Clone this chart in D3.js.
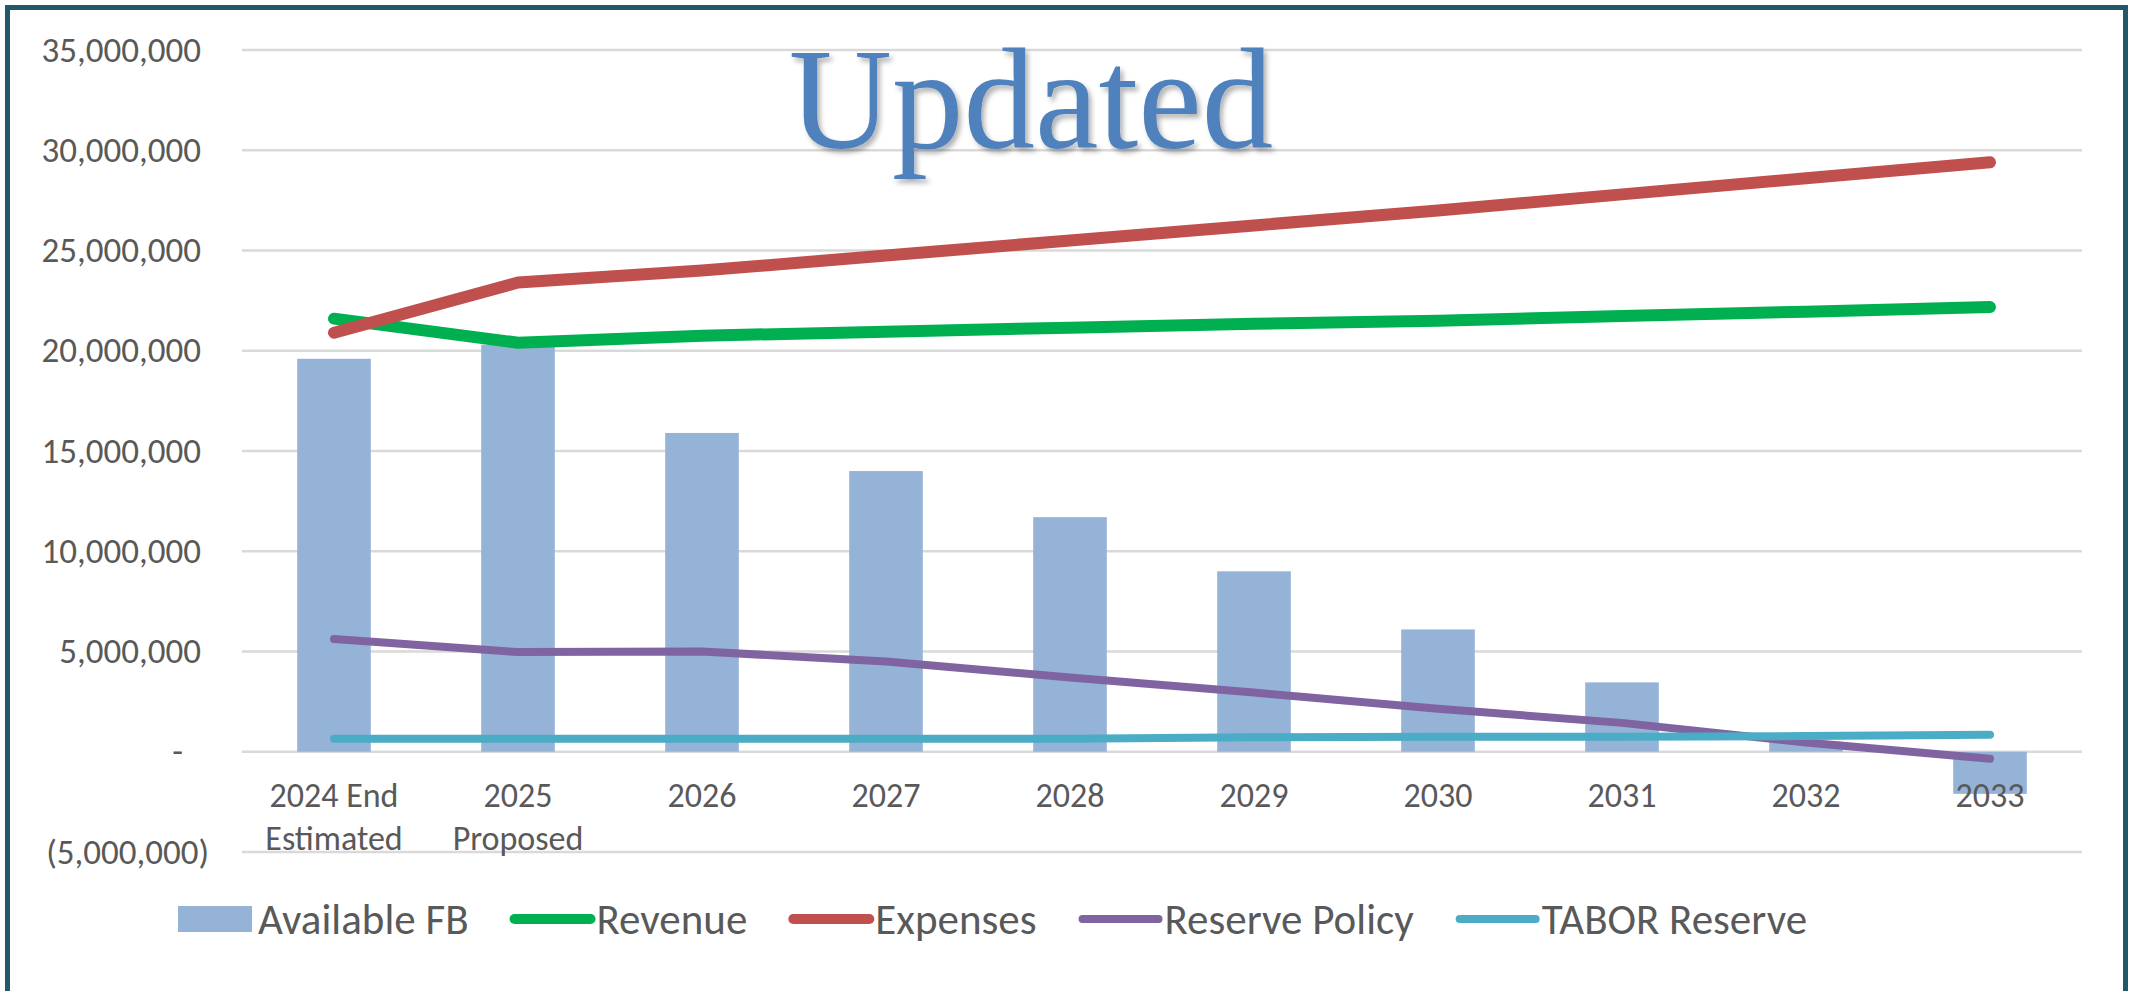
<!DOCTYPE html>
<html>
<head>
<meta charset="utf-8">
<script src="https://cdn.jsdelivr.net/npm/d3@7"></script>
<style>
  html, body { margin: 0; padding: 0; background: #fff; overflow: hidden; }
  svg { display: block; }
</style>
</head>
<body>
<div id="chart"></div>
<script>
// categories (line breaks mark two-line tick labels)
const categories = ['2024 End\nEstimated', '2025\nProposed', '2026', '2027', '2028', '2029', '2030', '2031', '2032', '2033'];
const yTicks = [-5e6, 0, 5e6, 10e6, 15e6, 20e6, 25e6, 30e6, 35e6];

// series values
const availableFB = [19.6e6, 20.3e6, 15.9e6, 14.0e6, 11.7e6, 9.0e6, 6.1e6, 3.46e6, 0.5e6, -2.1e6];
const revenue = [21.6e6, 20.4e6, 20.75e6, 20.95e6, 21.15e6, 21.35e6, 21.5e6, 21.73e6, 21.95e6, 22.18e6];
const expenses = [20.9e6, 23.4e6, 24.0e6, 24.75e6, 25.5e6, 26.25e6, 27.0e6, 27.8e6, 28.6e6, 29.4e6];
const reservePolicy = [5.62e6, 4.97e6, 5.0e6, 4.5e6, 3.7e6, 2.95e6, 2.14e6, 1.44e6, 0.46e6, -0.35e6];
const taborReserve = [0.65e6, 0.65e6, 0.65e6, 0.65e6, 0.65e6, 0.72e6, 0.75e6, 0.75e6, 0.78e6, 0.85e6];

const lineSeries = [
  { name: 'Revenue', values: revenue, color: '#00B050', width: 12 },
  { name: 'Expenses', values: expenses, color: '#C0504D', width: 12 },
  { name: 'Reserve Policy', values: reservePolicy, color: '#8064A2', width: 8 },
  { name: 'TABOR Reserve', values: taborReserve, color: '#4BACC6', width: 8 },
];

const width = 2131;
const height = 991;
const margin = { top: 50, right: 49, bottom: 139, left: 242 };
const innerWidth = width - margin.left - margin.right;
const innerHeight = height - margin.top - margin.bottom;
const labelFont = 'Carlito, Lato, sans-serif';
const textColor = '#595959';

const svg = d3.select('#chart').append('svg').attr('width', width).attr('height', height);
svg.append('rect').attr('width', width).attr('height', height).attr('fill', '#fff');

const defs = svg.append('defs');
defs.append('filter').attr('id', 'shadow').attr('x', '-10%').attr('y', '-10%').attr('width', '130%').attr('height', '140%')
  .append('feDropShadow')
  .attr('dx', 3).attr('dy', 4).attr('stdDeviation', 2.5)
  .attr('flood-color', '#000').attr('flood-opacity', 0.3);

const g = svg.append('g').attr('transform', `translate(${margin.left},${margin.top})`);

const x = d3.scaleBand().domain(categories).range([0, innerWidth]);
const barW = x.bandwidth() * 0.4;
const y = d3.scaleLinear().domain([-5e6, 35e6]).range([innerHeight, 0]);

// gridlines
g.append('g').selectAll('line').data(yTicks).join('line')
  .attr('x1', 0).attr('x2', innerWidth)
  .attr('y1', (d) => y(d)).attr('y2', (d) => y(d))
  .attr('stroke', '#D9D9D9').attr('stroke-width', 2.5);

// y axis labels (accounting style)
const fmt = (d) => (d === 0 ? '-' : d < 0 ? `(${d3.format(',')(-d)})` : d3.format(',')(d));
const yAxis = g.append('g')
  .call(d3.axisLeft(y).tickValues(yTicks).tickSize(0).tickPadding(41).tickFormat(fmt));
yAxis.select('.domain').remove();
yAxis.selectAll('text')
  .attr('font-family', labelFont).attr('font-size', 35).attr('fill', textColor)
  .attr('dx', (d) => (d < 0 ? 8 : d === 0 ? -18 : 0));

// bars
g.append('g').selectAll('rect').data(availableFB).join('rect')
  .attr('x', (d, i) => x(categories[i]) + (x.bandwidth() - barW) / 2)
  .attr('y', (d) => y(Math.max(0, d)))
  .attr('width', barW)
  .attr('height', (d) => Math.abs(y(d) - y(0)))
  .attr('fill', '#95B3D7');

// x axis labels
const xAxis = g.append('g').attr('transform', `translate(0,${y(0)})`)
  .call(d3.axisBottom(x).tickSize(0).tickPadding(0));
xAxis.select('.domain').remove();
xAxis.selectAll('text').each(function (d) {
  const t = d3.select(this).text(null)
    .attr('font-family', labelFont).attr('font-size', 34).attr('fill', textColor)
    .attr('y', 55).attr('dy', null);
  d.split('\n').forEach((part, i) => {
    t.append('tspan').attr('x', 0).attr('dy', i === 0 ? 0 : 43).text(part);
  });
});

// lines
const line = d3.line()
  .x((d, i) => x(categories[i]) + x.bandwidth() / 2)
  .y((d) => y(d));
g.append('g').selectAll('path').data(lineSeries).join('path')
  .attr('d', (s) => line(s.values))
  .attr('fill', 'none')
  .attr('stroke', (s) => s.color)
  .attr('stroke-width', (s) => s.width)
  .attr('stroke-linecap', 'round')
  .attr('stroke-linejoin', 'round');

// title
svg.append('text')
  .attr('x', 1031).attr('y', 148)
  .attr('text-anchor', 'middle')
  .attr('font-family', '"Liberation Serif", "DejaVu Serif", serif')
  .attr('font-size', 143)
  .attr('fill', '#4F81BD')
  .attr('filter', 'url(#shadow)')
  .text('Updated');

// legend
const legend = svg.append('g').attr('transform', 'translate(178,919)');
const legendItems = [{ name: 'Available FB', bar: true, color: '#95B3D7' }]
  .concat(lineSeries.map((s) => ({ name: s.name, color: s.color, width: s.width === 12 ? 10 : 8 })));
let cursor = 0;
legendItems.forEach((item) => {
  const itemG = legend.append('g').attr('transform', `translate(${cursor},0)`);
  if (item.bar) {
    itemG.append('rect').attr('x', 0).attr('y', -13).attr('width', 74).attr('height', 26).attr('fill', item.color);
  } else {
    itemG.append('line').attr('x1', 4).attr('x2', 80).attr('y1', 0).attr('y2', 0)
      .attr('stroke', item.color).attr('stroke-width', item.width).attr('stroke-linecap', 'round');
  }
  const symW = item.bar ? 80 : 86;
  const label = itemG.append('text')
    .attr('x', symW).attr('y', 0).attr('dy', '0.35em')
    .attr('font-family', labelFont).attr('font-size', 43).attr('fill', textColor)
    .text(item.name);
  cursor += symW + label.node().getComputedTextLength() + 42;
});

// outer frame
svg.append('rect')
  .attr('x', 7.5).attr('y', 7.5).attr('width', 2118).attr('height', 1100)
  .attr('fill', 'none').attr('stroke', '#22596A').attr('stroke-width', 5);
</script>
</body>
</html>
